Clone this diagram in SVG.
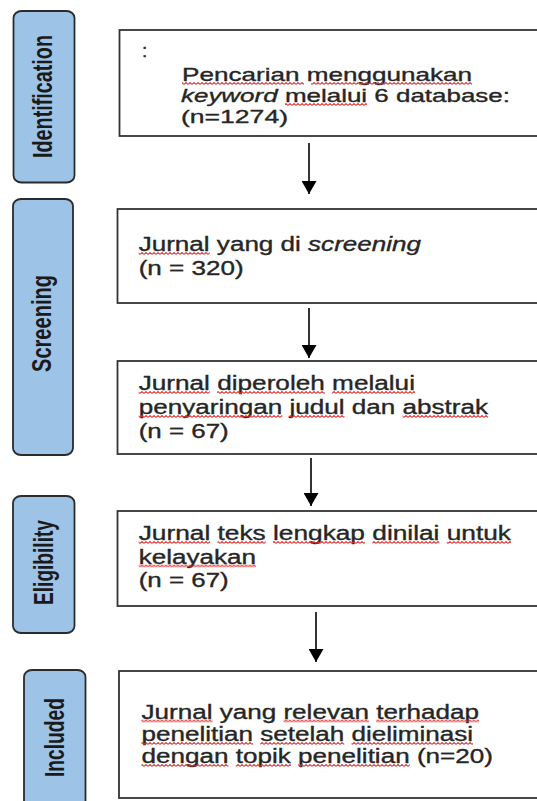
<svg xmlns="http://www.w3.org/2000/svg" width="537" height="801" viewBox="0 0 537 801">
<style>
.phase{fill:#9dc3e6;stroke:#2b2b2b;stroke-width:1.8}
.plab{font-family:"Liberation Sans",Arial,sans-serif;font-weight:bold;font-size:27px;fill:#1a1a1a}
.box{fill:#ffffff;stroke:#333333;stroke-width:1.8}
.t{font-family:"Liberation Sans",Arial,sans-serif;font-size:20px;fill:#262626;stroke:#262626;stroke-width:0.35}
.t1{font-size:19px}
.it{font-style:italic}
.sq{fill:url(#wave)}
.conn line{stroke:#000000;stroke-width:1.6;marker-end:url(#ah)}
</style>
<defs>
<pattern id="wave" width="4" height="3" patternUnits="userSpaceOnUse">
<path d="M0,2.4 L2,0.6 L4,2.4" fill="none" stroke="#e02b2b" stroke-width="1.1"/>
</pattern>
<marker id="ah" viewBox="0 0 13 15" refX="13" refY="7.5" markerWidth="13" markerHeight="15" markerUnits="userSpaceOnUse" orient="auto">
<path d="M0,0 L13,7.5 L0,15 z" fill="#000000"/>
</marker>
</defs>
<rect width="537" height="801" fill="#ffffff"/>

<g id="phase-identification">
<rect class="phase" x="13.5" y="11" width="61" height="171.5" rx="8" ry="7"/>
<text class="plab" transform="translate(52,158) rotate(-90)" textLength="123" lengthAdjust="spacingAndGlyphs">Identification</text>
</g>
<g id="phase-screening">
<rect class="phase" x="13" y="199" width="60" height="256" rx="8" ry="7"/>
<text class="plab" transform="translate(51,372) rotate(-90)" textLength="97" lengthAdjust="spacingAndGlyphs">Screening</text>
</g>
<g id="phase-eligibility">
<rect class="phase" x="13" y="496" width="61.5" height="137" rx="8" ry="7"/>
<text class="plab" transform="translate(53,605) rotate(-90)" textLength="85" lengthAdjust="spacingAndGlyphs">Eligibility</text>
</g>
<g id="phase-included">
<rect class="phase" x="24" y="670" width="61.5" height="150" rx="8" ry="7"/>
<text class="plab" transform="translate(64,777) rotate(-90)" textLength="79" lengthAdjust="spacingAndGlyphs">Included</text>
</g>

<g id="box-identification">
<rect class="box" x="119.5" y="30" width="430" height="106"/>
<text class="t t1" x="142" y="57">:</text>
<text class="t t1" x="182" y="81" textLength="290" lengthAdjust="spacingAndGlyphs">Pencarian menggunakan</text>
<text class="t t1 it" x="181" y="102" textLength="96.6" lengthAdjust="spacingAndGlyphs">keyword</text>
<text class="t t1" x="284.9" y="102" textLength="225.1" lengthAdjust="spacingAndGlyphs">melalui 6 database:</text>
<text class="t t1" x="181" y="123" textLength="107" lengthAdjust="spacingAndGlyphs">(n=1274)</text>
<rect class="sq" transform="translate(0,82)" x="182" y="0" width="122" height="3"/>
<rect class="sq" transform="translate(0,82)" x="311" y="0" width="161" height="3"/>
<rect class="sq" transform="translate(0,103)" x="285" y="0" width="82" height="3"/>
</g>

<g id="box-screening">
<rect class="box" x="117.5" y="209" width="430" height="94"/>
<text class="t" x="138.7" y="251" textLength="162.2" lengthAdjust="spacingAndGlyphs">Jurnal yang di</text>
<text class="t it" x="308.1" y="251" textLength="112.9" lengthAdjust="spacingAndGlyphs">screening</text>
<text class="t" x="138.7" y="275" textLength="105" lengthAdjust="spacingAndGlyphs">(n = 320)</text>
<rect class="sq" transform="translate(0,252)" x="138.7" y="0" width="71" height="3"/>
</g>

<g id="box-title-abstract">
<rect class="box" x="117.5" y="361" width="430" height="93"/>
<text class="t" x="138.7" y="390" textLength="276.3" lengthAdjust="spacingAndGlyphs">Jurnal diperoleh melalui</text>
<text class="t" x="138.7" y="414" textLength="349.3" lengthAdjust="spacingAndGlyphs">penyaringan judul dan abstrak</text>
<text class="t" x="138.7" y="438" textLength="90" lengthAdjust="spacingAndGlyphs">(n = 67)</text>
<rect class="sq" transform="translate(0,391)" x="138.7" y="0" width="71" height="3"/>
<rect class="sq" transform="translate(0,391)" x="217.2" y="0" width="107.6" height="3"/>
<rect class="sq" transform="translate(0,391)" x="332.1" y="0" width="83" height="3"/>
<rect class="sq" transform="translate(0,415)" x="138.7" y="0" width="143.5" height="3"/>
<rect class="sq" transform="translate(0,415)" x="289.5" y="0" width="55" height="3"/>
<rect class="sq" transform="translate(0,415)" x="402.6" y="0" width="85.4" height="3"/>
</g>

<g id="box-eligibility">
<rect class="box" x="117.5" y="511" width="430" height="95"/>
<text class="t" x="138.7" y="540" textLength="372.3" lengthAdjust="spacingAndGlyphs">Jurnal teks lengkap dinilai untuk</text>
<text class="t" x="138.7" y="563.5" textLength="117.3" lengthAdjust="spacingAndGlyphs">kelayakan</text>
<text class="t" x="138.7" y="587" textLength="90" lengthAdjust="spacingAndGlyphs">(n = 67)</text>
<rect class="sq" transform="translate(0,541)" x="138.7" y="0" width="71.5" height="3"/>
<rect class="sq" transform="translate(0,541)" x="217.5" y="0" width="48.2" height="3"/>
<rect class="sq" transform="translate(0,541)" x="273" y="0" width="92" height="3"/>
<rect class="sq" transform="translate(0,541)" x="372.3" y="0" width="67.1" height="3"/>
<rect class="sq" transform="translate(0,541)" x="446.8" y="0" width="64.2" height="3"/>
<rect class="sq" transform="translate(0,564.5)" x="138.7" y="0" width="117.3" height="3"/>
</g>

<g id="box-included">
<rect class="box" x="119" y="671" width="430" height="127"/>
<text class="t" x="141.5" y="718.5" textLength="337.5" lengthAdjust="spacingAndGlyphs">Jurnal yang relevan terhadap</text>
<text class="t" x="141.5" y="741" textLength="331.5" lengthAdjust="spacingAndGlyphs">penelitian setelah dieliminasi</text>
<text class="t" x="141.5" y="763" textLength="351.5" lengthAdjust="spacingAndGlyphs">dengan topik penelitian (n=20)</text>
<rect class="sq" transform="translate(0,719.5)" x="141.5" y="0" width="71" height="3"/>
<rect class="sq" transform="translate(0,719.5)" x="283.4" y="0" width="85.5" height="3"/>
<rect class="sq" transform="translate(0,719.5)" x="376.1" y="0" width="102.9" height="3"/>
<rect class="sq" transform="translate(0,742)" x="141.5" y="0" width="111.5" height="3"/>
<rect class="sq" transform="translate(0,742)" x="260.2" y="0" width="84" height="3"/>
<rect class="sq" transform="translate(0,742)" x="351.5" y="0" width="121.5" height="3"/>
<rect class="sq" transform="translate(0,764)" x="141.5" y="0" width="87" height="3"/>
<rect class="sq" transform="translate(0,764)" x="235.8" y="0" width="55.1" height="3"/>
<rect class="sq" transform="translate(0,764)" x="298.1" y="0" width="111.6" height="3"/>
</g>

<g id="connectors" class="conn">
<line x1="309" y1="143" x2="309" y2="194"/>
<line x1="309" y1="308" x2="309" y2="358"/>
<line x1="311" y1="458" x2="311" y2="506"/>
<line x1="316" y1="612" x2="316" y2="662"/>
</g>
</svg>
